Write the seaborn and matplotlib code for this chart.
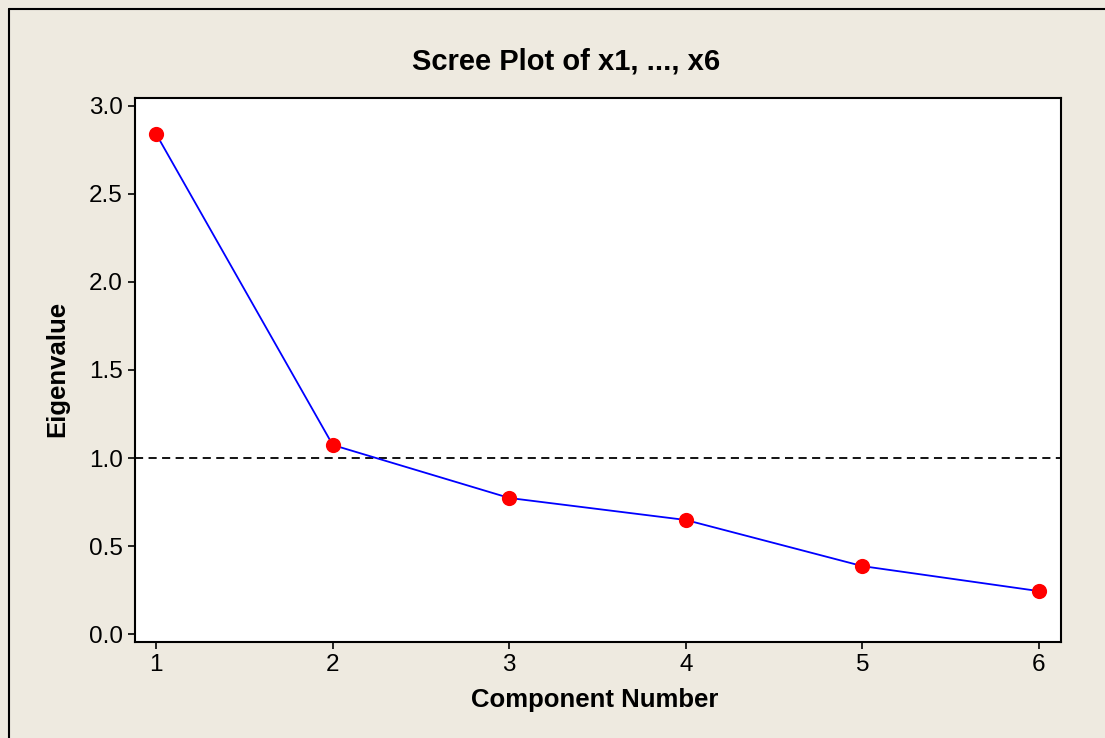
import numpy as np
import pandas as pd
import matplotlib
matplotlib.use("Agg")
import matplotlib.pyplot as plt
import seaborn as sns
from matplotlib.lines import Line2D

# Data
components = [1, 2, 3, 4, 5, 6]
eigenvalues = [2.84, 1.074, 0.773, 0.648, 0.386, 0.244]
yticks = [0.0, 0.5, 1.0, 1.5, 2.0, 2.5, 3.0]

df = pd.DataFrame({"Component Number": components, "Eigenvalue": eigenvalues})

sns.set_style("white")
plt.rcParams["font.family"] = ["Liberation Sans", "DejaVu Sans"]
plt.rcParams["text.color"] = "black"
plt.rcParams["xtick.color"] = "black"
plt.rcParams["ytick.color"] = "black"

bg = "#eeeae0"
fig = plt.figure(figsize=(11.05, 7.38), dpi=100, facecolor=bg)
ax = fig.add_axes([0.1222, 0.1301, 0.9602 - 0.1222, 0.8672 - 0.1301])
ax.set_facecolor("white")

# Outer frame (only top and left edges are inside the picture)
fx, fy = 8.5 / 1105, 1 - 8.5 / 738
fig.add_artist(Line2D([fx, 1.0], [fy, fy], transform=fig.transFigure, color="black", linewidth=1.5))
fig.add_artist(Line2D([fx, fx], [0.0, fy], transform=fig.transFigure, color="black", linewidth=1.5))

sns.lineplot(data=df, x="Component Number", y="Eigenvalue", ax=ax,
             color="#0000ff", linewidth=1.3, zorder=2)
sns.scatterplot(data=df, x="Component Number", y="Eigenvalue", ax=ax,
                color="#ff0000", s=120, edgecolor="#ff0000", linewidth=0, zorder=3)
ax.axhline(1.0, color="black", linestyle=(0, (4.5, 3)), linewidth=1.3, zorder=1)

ax.set_xlim(0.88, 6.125)
ax.set_ylim(-0.045, 3.045)
ax.set_xticks(components)
ax.set_yticks(yticks)
ax.set_yticklabels([f"{v:.1f}" for v in yticks])
ax.tick_params(axis="both", direction="out", length=5, width=1.2,
               labelsize=17.5, labelcolor="black", color="black", pad=4,
               left=True, bottom=True)
for sp in ax.spines.values():
    sp.set_color("black")
    sp.set_linewidth(1.5)

ax.set_xlabel("")
ax.set_ylabel("")
fig.text(0.5385, 0.051, "Component Number", ha="center", va="center",
         fontsize=18.5, fontweight="bold")
fig.text(0.052, 0.5, "Eigenvalue", ha="center", va="center", rotation=90,
         fontsize=18.5, fontweight="bold")
fig.text(0.5122, 0.916, "Scree Plot of x1, ..., x6", ha="center", va="center",
         fontsize=21, fontweight="bold")

fig.savefig("out.png", dpi=100, facecolor=bg)
